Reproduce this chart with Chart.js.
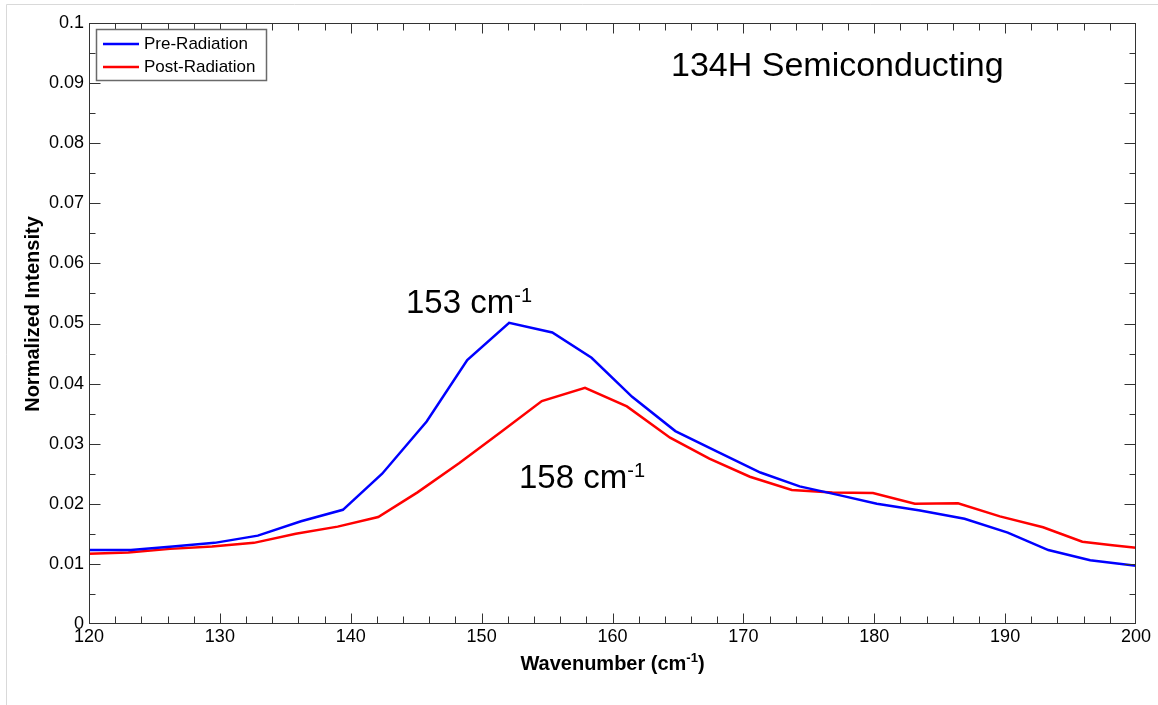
<!DOCTYPE html>
<html>
<head>
<meta charset="utf-8">
<title>134H Semiconducting</title>
<script src="https://cdn.jsdelivr.net/npm/chart.js@4.4.1/dist/chart.umd.min.js"></script>
<style>
  html, body { margin: 0; padding: 0; background: #fff; }
  #wrap { position: relative; width: 1158px; height: 705px; }
  canvas { display: block; }
</style>
</head>
<body>
<div id="wrap"><canvas id="chart" width="1158" height="705"></canvas></div>
<script>
// Raman spectra, radial breathing mode region
const preWavenumber = [120, 123.2, 126.4, 129.6, 132.9, 136.2, 139.4, 142.4, 145.8, 148.9, 152.1, 155.4, 158.4,
  161.5, 164.8, 168.0, 171.3, 174.3, 177.4, 180.2, 183.5, 186.9, 190.2, 193.3, 196.5, 200];
const preIntensity = [0.0123, 0.0123, 0.0129, 0.0135, 0.0147, 0.0171, 0.0190, 0.0250, 0.0337, 0.0439, 0.0501, 0.0485, 0.0443,
  0.0378, 0.0321, 0.0287, 0.0252, 0.0229, 0.0214, 0.0200, 0.0189, 0.0175, 0.0152, 0.0123, 0.0106, 0.0097];

const postWavenumber = [120, 123.0, 126.2, 129.4, 132.6, 135.8, 139.0, 142.1, 145.1, 148.3, 151.5, 154.6, 157.9,
  161.1, 164.4, 167.4, 170.5, 173.7, 176.8, 179.9, 183.1, 186.4, 189.6, 192.9, 195.9, 198.2, 200];
const postIntensity = [0.0117, 0.0119, 0.0125, 0.0129, 0.0135, 0.0150, 0.0162, 0.0178, 0.0219, 0.0268, 0.0320, 0.0371, 0.0393,
  0.0362, 0.0310, 0.0275, 0.0245, 0.0223, 0.0219, 0.0218, 0.0200, 0.0201, 0.0179, 0.0161, 0.0137, 0.0131, 0.0127];

const seriesNames = ['Pre-Radiation', 'Post-Radiation'];
const seriesColors = ['#0000ff', '#ff0000'];

const xTickLabels = ['120', '130', '140', '150', '160', '170', '180', '190', '200'];
const yTickLabels = ['0', '0.01', '0.02', '0.03', '0.04', '0.05', '0.06', '0.07', '0.08', '0.09', '0.1'];

const chartTitle = '134H Semiconducting';
const peakLabels = [
  { text: '153 cm', sup: '-1', x: 406, y: 313 },
  { text: '158 cm', sup: '-1', x: 519, y: 488 }
];

const FONT = '"Liberation Sans", Arial, Helvetica, sans-serif';

function toPoints(xs, ys) {
  return xs.map((x, i) => ({ x: x, y: ys[i] }));
}

// text with a raised exponent, drawn left-aligned from (x, y) baseline
function drawSupText(ctx, x, y, main, sup, size, supSize, weight, raise) {
  ctx.font = weight + ' ' + size + 'px ' + FONT;
  ctx.textAlign = 'left';
  ctx.textBaseline = 'alphabetic';
  ctx.fillText(main, x, y);
  const w = ctx.measureText(main).width;
  ctx.font = weight + ' ' + supSize + 'px ' + FONT;
  ctx.fillText(sup, x + w, y - raise);
  return w + ctx.measureText(sup).width;
}

function measureSupText(ctx, main, sup, size, supSize, weight) {
  ctx.font = weight + ' ' + size + 'px ' + FONT;
  const w = ctx.measureText(main).width;
  ctx.font = weight + ' ' + supSize + 'px ' + FONT;
  return w + ctx.measureText(sup).width;
}

const framePlugin = {
  id: 'frameTicksLegend',
  afterDraw(chart) {
    const ctx = chart.ctx;
    const a = chart.chartArea;
    const xs = chart.scales.x, ys = chart.scales.y;
    ctx.save();

    // light outer border of the figure
    ctx.strokeStyle = '#d9d9d9';
    ctx.lineWidth = 1;
    ctx.beginPath();
    ctx.moveTo(6.5, 705);
    ctx.lineTo(6.5, 4.5);
    ctx.lineTo(1158, 4.5);
    ctx.stroke();

    // axes box
    const L = Math.round(a.left) + 0.5, R = Math.round(a.right) - 0.5;
    const T = Math.round(a.top) + 0.5, B = Math.round(a.bottom) - 0.5;
    ctx.strokeStyle = '#333';
    ctx.lineWidth = 1;
    ctx.strokeRect(L, T, R - L, B - T);

    // inward ticks on all four sides (kept inside the box)
    const clamp = (v, lo, hi) => Math.min(hi, Math.max(lo, v));
    ctx.beginPath();
    for (let v = 120; v <= 200; v += 2) {
      const px = clamp(Math.round(xs.getPixelForValue(v)) + 0.5, L, R);
      const len = (v % 10 === 0) ? 10 : 7;
      ctx.moveTo(px, B); ctx.lineTo(px, B - len);
      ctx.moveTo(px, T); ctx.lineTo(px, T + len);
    }
    for (let k = 0; k <= 20; k++) {
      const v = k * 0.005;
      const py = clamp(Math.round(ys.getPixelForValue(v)) + 0.5, T, B);
      const len = (k % 2 === 0) ? 11 : 6;
      ctx.moveTo(L, py); ctx.lineTo(L + len, py);
      ctx.moveTo(R, py); ctx.lineTo(R - len, py);
    }
    ctx.stroke();

    // legend
    const lx = 96.5, ly = 29.5, lw = 170, lh = 51;
    ctx.fillStyle = '#fff';
    ctx.fillRect(lx, ly, lw, lh);
    ctx.strokeStyle = '#6a6a6a';
    ctx.lineWidth = 1.5;
    ctx.strokeRect(lx, ly, lw, lh);
    chart.data.datasets.forEach((ds, i) => {
      const yy = 44 + i * 23;
      ctx.strokeStyle = ds.borderColor;
      ctx.lineWidth = 2.5;
      ctx.beginPath();
      ctx.moveTo(103, yy); ctx.lineTo(139, yy);
      ctx.stroke();
      ctx.fillStyle = '#000';
      ctx.font = '17px ' + FONT;
      ctx.textAlign = 'left';
      ctx.textBaseline = 'middle';
      ctx.fillText(ds.label, 144, yy);
    });

    // title inside the plot
    ctx.fillStyle = '#000';
    ctx.font = '34px ' + FONT;
    ctx.textAlign = 'left';
    ctx.textBaseline = 'alphabetic';
    ctx.fillText(chartTitle, 671, 76);

    // peak annotations
    peakLabels.forEach(p => drawSupText(ctx, p.x, p.y, p.text, p.sup, 33, 20, 'normal', 11));

    // x axis title
    const xm = 'Wavenumber (cm', xsup = '-1', xend = ')';
    ctx.font = 'bold 20px ' + FONT;
    const wEnd = ctx.measureText(xend).width;
    const wTot = measureSupText(ctx, xm, xsup, 20, 13, 'bold') + wEnd;
    const cx = (a.left + a.right) / 2;
    let x0 = cx - wTot / 2;
    const wMain = drawSupText(ctx, x0, 670, xm, xsup, 20, 13, 'bold', 8);
    ctx.font = 'bold 20px ' + FONT;
    ctx.fillText(xend, x0 + wMain, 670);

    // y axis title
    ctx.save();
    ctx.translate(33, 314);
    ctx.rotate(-Math.PI / 2);
    ctx.font = 'bold 20px ' + FONT;
    ctx.textAlign = 'center';
    ctx.textBaseline = 'middle';
    ctx.fillText('Normalized Intensity', 0, 0);
    ctx.restore();

    ctx.restore();
  }
};

new Chart(document.getElementById('chart'), {
  type: 'line',
  data: {
    datasets: [
      {
        label: seriesNames[0],
        data: toPoints(preWavenumber, preIntensity),
        borderColor: seriesColors[0],
        backgroundColor: seriesColors[0],
        borderWidth: 2.5,
        pointRadius: 0,
        tension: 0,
        fill: false
      },
      {
        label: seriesNames[1],
        data: toPoints(postWavenumber, postIntensity),
        borderColor: seriesColors[1],
        backgroundColor: seriesColors[1],
        borderWidth: 2.5,
        pointRadius: 0,
        tension: 0,
        fill: false
      }
    ]
  },
  options: {
    responsive: false,
    devicePixelRatio: 1,
    animation: false,
    layout: { padding: { top: 23, right: 22, left: 0, bottom: 0 } },
    plugins: {
      legend: { display: false },
      tooltip: { enabled: false },
      title: { display: false }
    },
    scales: {
      x: {
        type: 'linear',
        min: 120,
        max: 200,
        grid: { display: false, drawTicks: false },
        border: { display: false },
        ticks: {
          stepSize: 10,
          color: '#000',
          font: { family: FONT, size: 18 },
          padding: 2,
          maxRotation: 0,
          autoSkip: false,
          callback: (v, i) => xTickLabels[i]
        },
        afterFit: (s) => { s.height = 81; }
      },
      y: {
        type: 'linear',
        min: 0,
        max: 0.1,
        grid: { display: false, drawTicks: false },
        border: { display: false },
        ticks: {
          stepSize: 0.01,
          color: '#000',
          font: { family: FONT, size: 18 },
          padding: 5,
          autoSkip: false,
          callback: (v, i) => yTickLabels[i]
        },
        afterFit: (s) => { s.width = 89; }
      }
    }
  },
  plugins: [framePlugin]
});
</script>
</body>
</html>
